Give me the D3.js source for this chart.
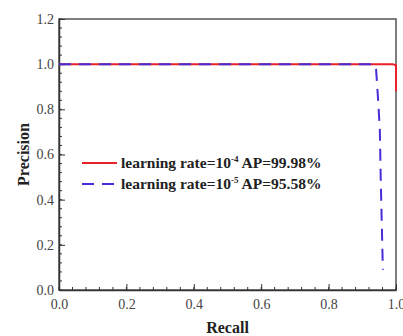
<!DOCTYPE html>
<html>
<head>
<meta charset="utf-8">
<script src="https://cdn.jsdelivr.net/npm/d3@7"></script>
<style>
  body { margin: 0; background: #fff; }
  text { font-family: "Liberation Serif", "Times New Roman", serif; }
</style>
</head>
<body>
<div id="chart"></div>
<script>
// PR curves
var recallA = [0, 0.5, 0.99, 1.0, 1.0];
var precisionA = [1.0, 1.0, 1.0, 0.995, 0.88];
var recallB = [0, 0.5, 0.934, 0.941, 0.947, 0.952, 0.955, 0.961];
var precisionB = [1.0, 1.0, 1.0, 0.975, 0.84, 0.71, 0.47, 0.09];
var seriesNames = ['learning rate=10', 'learning rate=10'];
var seriesExp = ['-4', '-5'];
var seriesAP = [' AP=99.98%', ' AP=95.58%'];
var tickVals = [0, 0.2, 0.4, 0.6, 0.8, 1.0];
var yTickVals = [0, 0.2, 0.4, 0.6, 0.8, 1.0, 1.2];

var width = 403, height = 336;
var margin = { top: 19, right: 7, bottom: 46, left: 59 };

var svg = d3.select('#chart').append('svg')
    .attr('width', width)
    .attr('height', height);

var x = d3.scaleLinear().domain([0, 1]).range([margin.left, width - margin.right]);
var y = d3.scaleLinear().domain([0, 1.2]).range([height - margin.bottom, margin.top]);

// frame
svg.append('rect')
    .attr('x', x(0)).attr('y', y(1.2))
    .attr('width', x(1) - x(0)).attr('height', y(0) - y(1.2))
    .attr('fill', 'none').attr('stroke', '#555').attr('stroke-width', 1.5);

// minor ticks (inward)
var minor = d3.range(0, 1.0001, 0.04);
var minorY = d3.range(0, 1.2001, 0.04);
svg.append('g').selectAll('line').data(minor).enter().append('line')
    .attr('x1', function(d) { return x(d); }).attr('x2', function(d) { return x(d); })
    .attr('y1', y(0)).attr('y2', y(0) - 3)
    .attr('stroke', '#333').attr('stroke-width', 1);
svg.append('g').selectAll('line').data(minorY).enter().append('line')
    .attr('y1', function(d) { return y(d); }).attr('y2', function(d) { return y(d); })
    .attr('x1', x(0)).attr('x2', x(0) + 3)
    .attr('stroke', '#333').attr('stroke-width', 1);

var xAxis = d3.axisBottom(x).tickValues(tickVals).tickSizeInner(-6).tickSizeOuter(0)
    .tickPadding(9).tickFormat(d3.format('.1f'));
var yAxis = d3.axisLeft(y).tickValues(yTickVals).tickSizeInner(-6).tickSizeOuter(0)
    .tickPadding(5).tickFormat(d3.format('.1f'));

var gx = svg.append('g').attr('transform', 'translate(0,' + y(0) + ')').call(xAxis);
var gy = svg.append('g').attr('transform', 'translate(' + x(0) + ',0)').call(yAxis);
[gx, gy].forEach(function(g) {
    g.select('.domain').attr('stroke', '#333').attr('stroke-width', 1.5);
    g.selectAll('.tick line').attr('stroke', '#333').attr('stroke-width', 1);
    g.selectAll('.tick text').attr('fill', '#444').style('font-size', '14px')
        .style('font-family', '"Liberation Serif", serif');
});

var line = d3.line()
    .x(function(d) { return x(d[0]); })
    .y(function(d) { return y(d[1]); });

svg.append('path')
    .datum(d3.zip(recallA, precisionA))
    .attr('d', line)
    .attr('fill', 'none').attr('stroke', '#e8202a').attr('stroke-width', 2);

svg.append('path')
    .datum(d3.zip(recallB, precisionB))
    .attr('d', line)
    .attr('fill', 'none').attr('stroke', '#4a2bd8').attr('stroke-width', 2)
    .attr('stroke-dasharray', '12,8');

// legend
var legend = svg.append('g');
var legendY = [163, 184];
var colors = ['#e8202a', '#4a2bd8'];
var dashes = [null, '12,8'];
legendY.forEach(function(ly, i) {
    legend.append('line')
        .attr('x1', 82).attr('x2', 117).attr('y1', ly).attr('y2', ly)
        .attr('stroke', colors[i]).attr('stroke-width', 2)
        .attr('stroke-dasharray', dashes[i]);
    var t = legend.append('text')
        .attr('x', 121).attr('y', ly + 5)
        .style('font-size', '15.5px').style('font-weight', 'bold').attr('fill', '#222');
    t.append('tspan').text(seriesNames[i]);
    t.append('tspan').attr('dy', -6).style('font-size', '9px').text(seriesExp[i]);
    t.append('tspan').attr('dy', 6).text(seriesAP[i]);
});

// axis titles
svg.append('text')
    .attr('x', (x(0) + x(1)) / 2).attr('y', 333)
    .attr('text-anchor', 'middle')
    .style('font-size', '16px').style('font-weight', 'bold').attr('fill', '#222')
    .text('Recall');
svg.append('text')
    .attr('transform', 'translate(29,' + ((y(0) + y(1.2)) / 2) + ') rotate(-90)')
    .attr('text-anchor', 'middle')
    .style('font-size', '16px').style('font-weight', 'bold').attr('fill', '#222')
    .text('Precision');
</script>
</body>
</html>
